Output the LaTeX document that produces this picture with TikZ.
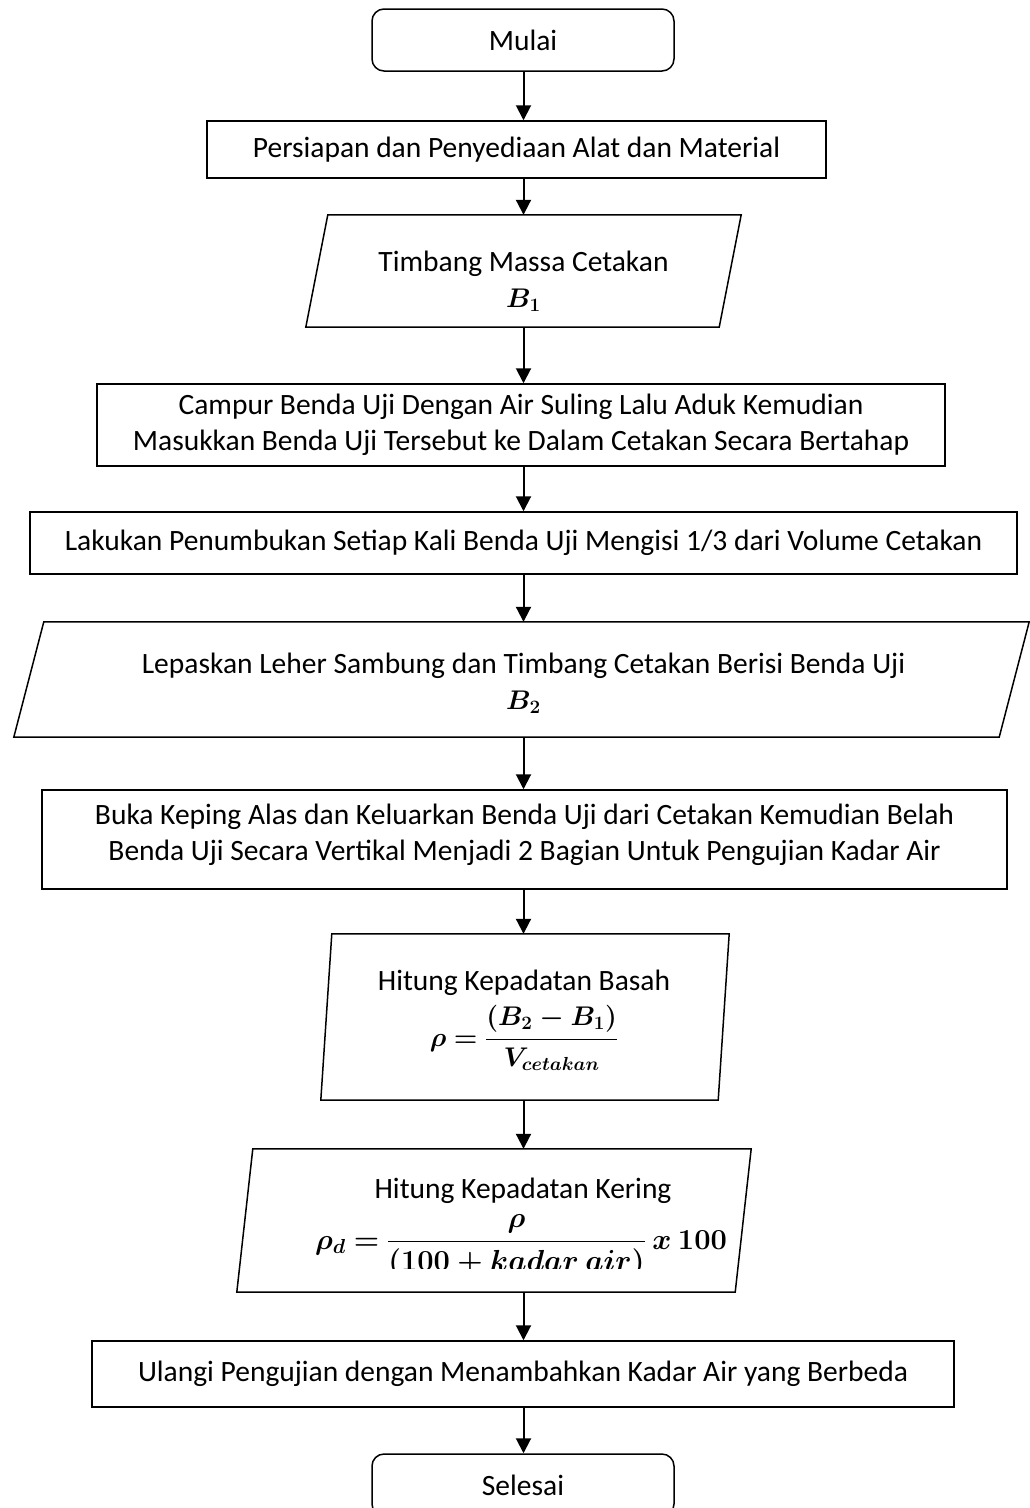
\documentclass[tikz,border=0pt]{standalone}
\usepackage{fix-cm}
\usepackage{amsmath,bm}
\usepackage{fontspec}
\setmainfont{Carlito}
\usetikzlibrary{arrows.meta}
\newcommand\drawpar[2]{\draw[outline] ([xshift=#2pt]#1.north west) -- ([xshift=#2pt]#1.north east) -- ([xshift=-#2pt]#1.south east) -- ([xshift=-#2pt]#1.south west) -- cycle;}
\newcommand\mathsz{\fontsize{27}{33}\selectfont}
\begin{document}
\begin{tikzpicture}[x=1pt,y=-1pt,
  every node/.style={font=\fontsize{29.5}{36}\selectfont, inner sep=0pt, align=center},
  outline/.style={line width=1.5pt, line join=miter},
  proc/.style={draw, line width=1.5pt},
  term/.style={draw, line width=1.5pt, rounded corners=12pt},
  arr/.style={line width=2pt, -{Triangle[width=15pt,length=15pt]}}]
\useasboundingbox (0,0) rectangle (1029,1508);
\coordinate (axis) at (523.5,0);
% Mulai
\node[term, minimum width=302pt, minimum height=62pt] (mulai) at (523,40) {Mulai};
% Persiapan
\node[proc, minimum width=619pt, minimum height=57pt] (pers) at (516.5,149.5) {Persiapan dan Penyediaan Alat dan Material};
% Timbang
\node[minimum width=413pt, minimum height=112pt] (tim) at (523.5,271) {};
\drawpar{tim}{11}
\node (timt) at (523.5,281) {Timbang Massa Cetakan\\ {\mathsz$\bm{B_1}$}};
% Campur
\node[proc, minimum width=848pt, minimum height=82pt] (campur) at (521,425) {Campur Benda Uji Dengan Air Suling Lalu Aduk Kemudian\\ Masukkan Benda Uji Tersebut ke Dalam Cetakan Secara Bertahap};
% Lakukan
\node[proc, minimum width=987pt, minimum height=62pt] (lakukan) at (523.5,543) {Lakukan Penumbukan Setiap Kali Benda Uji Mengisi 1/3 dari Volume Cetakan};
% Lepaskan
\node[minimum width=985pt, minimum height=115pt] (lepas) at (521.5,679.5) {};
\drawpar{lepas}{15}
\node (lepast) at (523.5,683) {Lepaskan Leher Sambung dan Timbang Cetakan Berisi Benda Uji\\ {\mathsz$\bm{B_2}$}};
% Buka
\node[proc, minimum width=965pt, minimum height=99pt] (buka) at (524.5,839.5) {};
\node (bukat) at (524.5,835) {Buka Keping Alas dan Keluarkan Benda Uji dari Cetakan Kemudian Belah\\ Benda Uji Secara Vertikal Menjadi 2 Bagian Untuk Pengujian Kadar Air};
% Basah
\node[minimum width=397pt, minimum height=166pt] (bas) at (525,1017) {};
\drawpar{bas}{5.5}
\node (bast) at (524,983) {Hitung Kepadatan Basah};
\node[anchor=base, font=\mathsz] (basf) at (524,1046) {$\bm{\rho = \dfrac{(B_2 - B_1)}{V_{cetakan}}}$};
% Kering
\node[minimum width=498pt, minimum height=143pt] (ker) at (494,1220.5) {};
\drawpar{ker}{8}
\node (kert) at (523,1191) {Hitung Kepadatan Kering};
\begin{scope}
\clip (0,1100) rectangle (1029,1268);
\node[anchor=base, font=\fontsize{29}{35}\selectfont] (kerf) at (521,1249) {$\bm{\rho_d = \dfrac{\rho}{(100 + kadar\ air)}\ x\ 100}$};
\end{scope}
% Ulangi
\node[proc, minimum width=862pt, minimum height=66pt] (ulang) at (523,1374) {Ulangi Pengujian dengan Menambahkan Kadar Air yang Berbeda};
% Selesai
\node[term, minimum width=302pt, minimum height=62pt] (selesai) at (523,1485) {Selesai};
% connectors
\draw[arr] (axis |- mulai.south) -- (axis |- pers.north);
\draw[arr] (axis |- pers.south) -- (axis |- tim.north);
\draw[arr] (axis |- tim.south) -- (axis |- campur.north);
\draw[arr] (axis |- campur.south) -- (axis |- lakukan.north);
\draw[arr] (axis |- lakukan.south) -- (axis |- lepas.north);
\draw[arr] (axis |- lepas.south) -- (axis |- buka.north);
\draw[arr] (axis |- buka.south) -- (axis |- bas.north);
\draw[arr] (axis |- bas.south) -- (axis |- ker.north);
\draw[arr] (axis |- ker.south) -- (axis |- ulang.north);
\draw[arr] (axis |- ulang.south) -- (axis |- selesai.north);
\end{tikzpicture}
\end{document}
